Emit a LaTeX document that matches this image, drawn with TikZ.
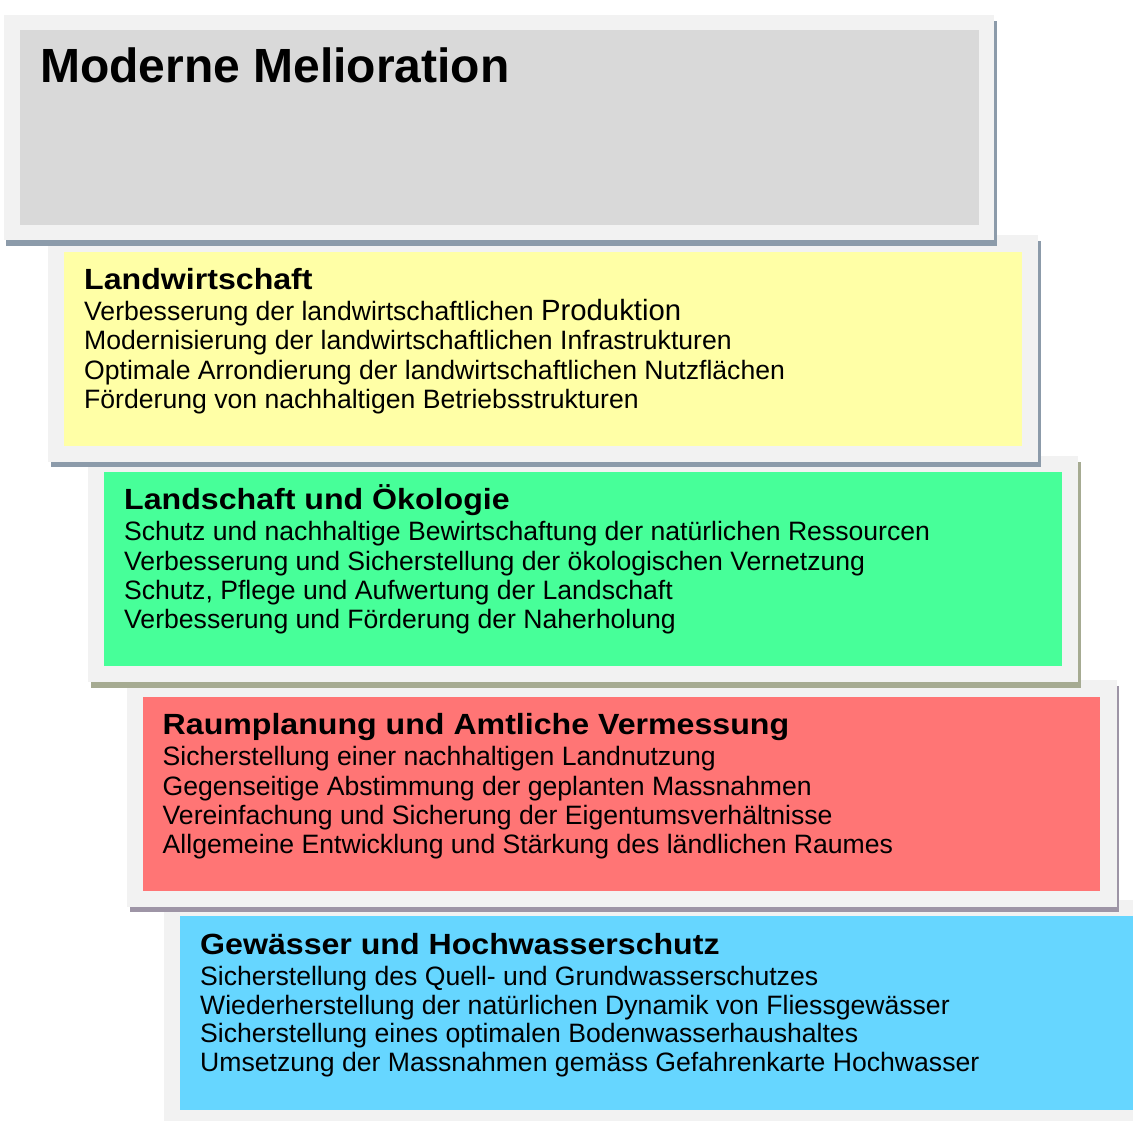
\documentclass[tikz,border=0pt]{standalone}
\usepackage{fontspec}
\setmainfont{Liberation Sans}
\newfontfamily\headfont[FakeStretch=1.1]{Liberation Sans Bold}
\definecolor{framegray}{RGB}{242,242,242}
\definecolor{titlegray}{RGB}{217,217,217}
\definecolor{yel}{RGB}{255,255,166}
\definecolor{grn}{RGB}{71,255,153}
\definecolor{redc}{RGB}{255,117,117}
\definecolor{blu}{RGB}{102,214,255}
\definecolor{shblue}{RGB}{140,155,170}
\definecolor{sholive}{RGB}{166,171,146}
\definecolor{shpurple}{RGB}{158,149,166}
\tikzset{
  framebox/.style={fill=framegray},
  body/.style={anchor=base west, inner sep=0pt, font=\fontsize{26.6}{29}\selectfont},
  head/.style={anchor=base west, inner sep=0pt, font=\fontsize{29.2}{32}\headfont},
}
\begin{document}
\begin{tikzpicture}[x=1pt,y=-1pt]
\useasboundingbox (0,0) rectangle (1133,1121);
\clip (0,0) rectangle (1133,1121);
\fill[white] (0,0) rectangle (1133,1121);
% box 5 (blue)
\fill[framegray] (164,900) rectangle (1150,1130);
\fill[blu] (180,916) rectangle (1150,1110);
% box 4 (red)
\fill[shpurple] (130,686) rectangle (1119,912);
\fill[framegray] (127,680) rectangle (1117,907);
\fill[redc] (143,697) rectangle (1100,891);
% box 3 (green)
\fill[sholive] (91,462) rectangle (1081,688);
\fill[framegray] (88,456) rectangle (1078,682);
\fill[grn] (104,472) rectangle (1062,666);
% box 2 (yellow)
\fill[shblue] (51,241) rectangle (1041,467);
\fill[framegray] (48,235) rectangle (1038,462);
\fill[yel] (64,252) rectangle (1022,446);
% box 1 (gray)
\fill[shblue] (6,21) rectangle (997,246);
\fill[framegray] (4,15) rectangle (994,240);
\fill[titlegray] (20,30) rectangle (979,225);
% texts
\node[anchor=base west, inner sep=0pt, font=\fontsize{48}{56}\selectfont\bfseries] (title) at (40,83) {Moderne Melioration};

\node[head] (h2) at (84,289) {Landwirtschaft};
\node[body] (b21) at (84,320.5) {Verbesserung der landwirtschaftlichen {\fontsize{29.3}{30}\selectfont Produktion}};
\node[body] (b22) at (84,349.9) {Modernisierung der landwirtschaftlichen Infrastrukturen};
\node[body] (b23) at (84,379.3) {Optimale Arrondierung der landwirtschaftlichen Nutzflächen};
\node[body] (b24) at (84,408.7) {Förderung von nachhaltigen Betriebsstrukturen};

\node[head] (h3) at (124,509.5) {Landschaft und Ökologie};
\node[body] (b31) at (124,540.3) {Schutz und nachhaltige Bewirtschaftung der natürlichen Ressourcen};
\node[body] (b32) at (124,570) {Verbesserung und Sicherstellung der ökologischen Vernetzung};
\node[body] (b33) at (124,599) {Schutz, Pflege und Aufwertung der Landschaft};
\node[body] (b34) at (124,628.7) {Verbesserung und Förderung der Naherholung};

\node[head] (h4) at (162.5,734.3) {Raumplanung und Amtliche Vermessung};
\node[body] (b41) at (162.5,765.3) {Sicherstellung einer nachhaltigen Landnutzung};
\node[body] (b42) at (162.5,795) {Gegenseitige Abstimmung der geplanten Massnahmen};
\node[body] (b43) at (162.5,824) {Vereinfachung und Sicherung der Eigentumsverhältnisse};
\node[body] (b44) at (162.5,853.7) {Allgemeine Entwicklung und Stärkung des ländlichen Raumes};

\node[head] (h5) at (200,954.3) {Gewässer und Hochwasserschutz};
\node[body] (b51) at (200,985.3) {Sicherstellung des Quell- und Grundwasserschutzes};
\node[body] (b52) at (200,1014) {Wiederherstellung der natürlichen Dynamik von Fliessgewässer};
\node[body] (b53) at (200,1042.5) {Sicherstellung eines optimalen Bodenwasserhaushaltes};
\node[body] (b54) at (200,1071) {Umsetzung der Massnahmen gemäss Gefahrenkarte Hochwasser};
\end{tikzpicture}
\end{document}
